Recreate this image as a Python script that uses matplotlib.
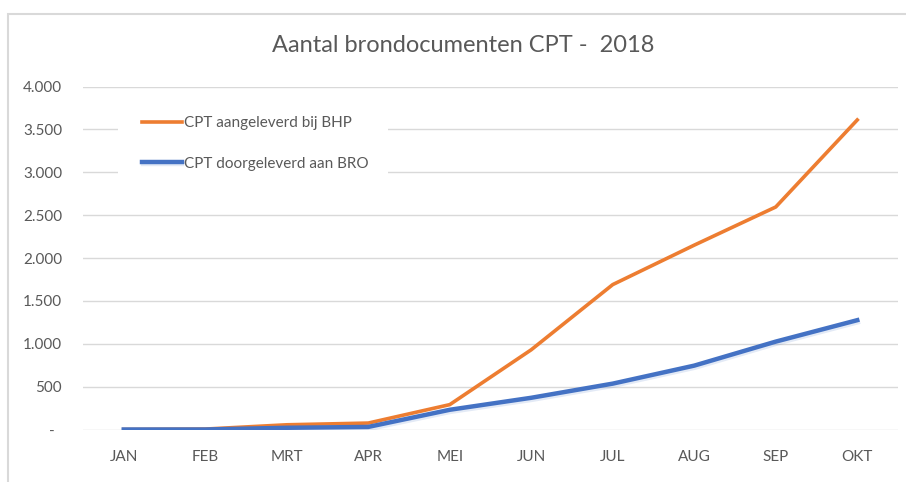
import numpy as np
import matplotlib.pyplot as plt
import matplotlib.patheffects as pe
from matplotlib.patches import Rectangle
from matplotlib.ticker import FuncFormatter

maanden = ["JAN", "FEB", "MRT", "APR", "MEI", "JUN", "JUL", "AUG", "SEP", "OKT"]
aangeleverd_bhp = [0, 5, 55, 75, 290, 930, 1690, 2150, 2595, 3610]
doorgeleverd_bro = [0, 0, 20, 30, 230, 370, 535, 745, 1025, 1275]

plt.rcParams['font.family'] = ['Lato', 'DejaVu Sans']

W, H = 906, 482
fig = plt.figure(figsize=(W / 100, H / 100), dpi=100)
ax = fig.add_axes([83 / W, (H - 429.5) / H, 815 / W, 343 / H])

# grijze rand rond de grafiek (rechts en onder valt buiten beeld)
fig.patches.append(Rectangle((7.5 / W, -0.05), 1.1, 1 - 14 / H + 0.05,
                             transform=fig.transFigure, fill=False,
                             edgecolor="#D9D9D9", linewidth=1.5))

x = np.arange(len(maanden))
ax.plot(x, aangeleverd_bhp, color="#ED7D31", linewidth=2.6,
        label="CPT aangeleverd bij BHP", zorder=3)
ax.plot(x, doorgeleverd_bro, color="#4472C4", linewidth=3.2,
        label="CPT doorgeleverd aan BRO", zorder=4,
        path_effects=[pe.SimpleLineShadow(offset=(0.5, -1.5), shadow_color="#4472C4", alpha=0.15),
                      pe.Normal()])

ax.set_xlim(-0.5, 9.5)
ax.set_ylim(0, 4000)
ax.set_yticks(np.arange(0, 4001, 500))


def nl_fmt(v, pos):
    if v == 0:
        return "-  "
    return f"{int(v):,}".replace(",", ".")


ax.yaxis.set_major_formatter(FuncFormatter(nl_fmt))
ax.set_xticks(x)
ax.set_xticklabels(maanden)

ax.grid(axis="y", color="#D9D9D9", linewidth=1.0, zorder=0)
ax.set_axisbelow(True)
for s in ax.spines.values():
    s.set_visible(False)
ax.tick_params(axis="both", length=0, colors="#595959", labelsize=11)
ax.tick_params(axis="x", pad=15)
ax.tick_params(axis="y", pad=15)

fig.text(463 / W, 1 - 45 / H, "Aantal brondocumenten CPT -  2018",
         ha="center", va="center", fontsize=17, color="#595959")

# witte legendavlak over de rasterlijnen
ax.add_patch(Rectangle((118 / W, 1 - 184 / H), 270 / W, 76 / H,
                       transform=fig.transFigure, facecolor="white",
                       edgecolor="none", zorder=5, clip_on=False))
leg = ax.legend(loc="upper left", bbox_to_anchor=(142 / W, 1 - 116 / H),
                bbox_transform=fig.transFigure, frameon=False,
                fontsize=11, labelcolor="#595959", handlelength=2.6,
                handletextpad=0.15, labelspacing=1.75, borderpad=0,
                borderaxespad=0)
leg.set_zorder(6)

fig.savefig("out.png", dpi=100)
